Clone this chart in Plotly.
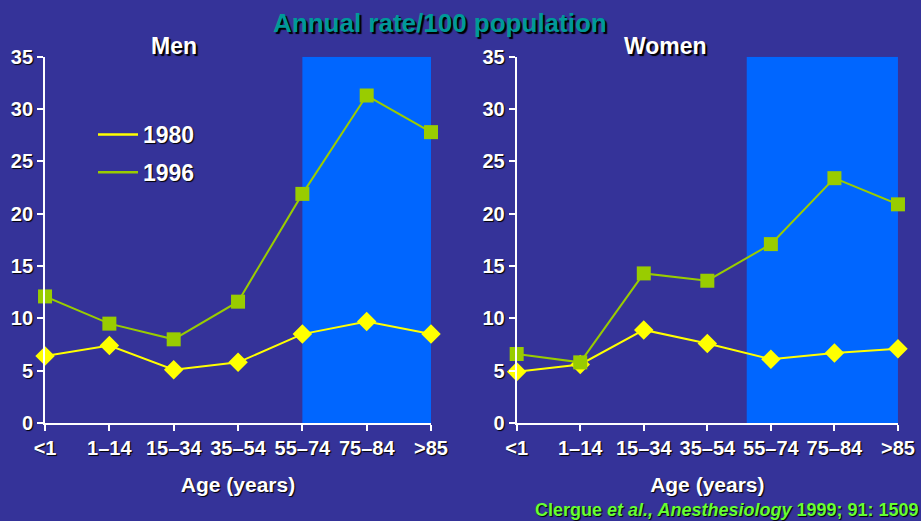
import plotly.graph_objects as go

ages = ["<1", "1–14", "15–34", "35–54", "55–74", "75–84", ">85"]
men_1980 = [6.4, 7.4, 5.1, 5.8, 8.5, 9.7, 8.5]
men_1996 = [12.1, 9.5, 8.0, 11.6, 21.9, 31.3, 27.8]
women_1980 = [4.9, 5.6, 8.9, 7.6, 6.1, 6.7, 7.1]
women_1996 = [6.6, 5.8, 14.3, 13.6, 17.1, 23.4, 20.9]
yticks = [0, 5, 10, 15, 20, 25, 30, 35]
men_shade = [4, 6]
women_shade = [3.62, 6]

BG = "#353399"
YEL = "#FFFF00"
GRN = "#99CC00"
SH = "1px 1px 1px black"
F = "Liberation Sans"

xpos = list(range(len(ages)))
fig = go.Figure()

def add_panel(v80, v96, xa, ya):
    fig.add_trace(go.Scatter(x=xpos, y=v80, mode="lines+markers", xaxis=xa, yaxis=ya,
                             line=dict(color=YEL, width=2),
                             marker=dict(symbol="diamond", size=15, color=YEL),
                             showlegend=False, cliponaxis=False))
    fig.add_trace(go.Scatter(x=xpos, y=v96, mode="lines+markers", xaxis=xa, yaxis=ya,
                             line=dict(color=GRN, width=2),
                             marker=dict(symbol="square", size=14, color=GRN),
                             showlegend=False, cliponaxis=False))

add_panel(men_1980, men_1996, "x", "y")
add_panel(women_1980, women_1996, "x2", "y2")

# legend-only line entries
fig.add_trace(go.Scatter(x=[None], y=[None], mode="lines", name="1980", legendgroup="a",
                         line=dict(color=YEL, width=2.5)))
fig.add_trace(go.Scatter(x=[None], y=[None], mode="lines", name="1996", legendgroup="b",
                         line=dict(color=GRN, width=2.5)))

# shaded regions
fig.add_shape(type="rect", xref="x", yref="y", x0=men_shade[0], x1=men_shade[1], y0=0, y1=35,
              fillcolor="#0066FF", line=dict(width=0), layer="below")
fig.add_shape(type="rect", xref="x2", yref="y2", x0=women_shade[0], x1=women_shade[1], y0=0, y1=35,
              fillcolor="#0066FF", line=dict(width=0), layer="below")

tickfont = dict(family=F, size=20, color="white", weight="bold", shadow=SH)
xax = dict(range=[0, 6], tickmode="array", tickvals=xpos, ticktext=ages, automargin=False,
           showline=True, linecolor="white", linewidth=2, ticks="outside", tickcolor="white",
           ticklen=6, tickwidth=2, showgrid=False, zeroline=False, tickfont=tickfont,
           title=dict(text="Age (years)", font=dict(family=F, size=21, color="white", weight="bold", shadow=SH),
                      standoff=19))
yax = dict(range=[0, 35], tickmode="array", tickvals=yticks, automargin=False,
           showline=True, linecolor="white", linewidth=2, ticks="outside", tickcolor="white",
           ticklen=6, tickwidth=2, showgrid=False, zeroline=False, tickfont=tickfont)

fig.update_layout(
    width=921, height=521,
    margin=dict(l=0, r=0, t=0, b=0),
    paper_bgcolor=BG, plot_bgcolor=BG,
    xaxis=dict(domain=[0.0489, 0.468], anchor="y", **xax),
    yaxis=dict(domain=[0.188, 0.891], anchor="x", **yax),
    xaxis2=dict(domain=[0.561, 0.975], anchor="y2", **xax),
    yaxis2=dict(domain=[0.188, 0.891], anchor="x2", **yax),
    showlegend=True,
    legend=dict(x=93 / 921, y=1 - 113 / 521, xanchor="left", yanchor="top", bgcolor="rgba(0,0,0,0)",
                font=dict(family=F, size=23, color="white", weight="bold", shadow=SH),
                tracegroupgap=5, itemwidth=40),
)

ann = [
    dict(text="Annual rate/100 population", x=440, y=23, size=26, color="#009999"),
    dict(text="Men", x=174, y=46, size=23, color="white"),
    dict(text="Women", x=665, y=46, size=23, color="white"),
]
for a in ann:
    fig.add_annotation(text=a["text"], xref="paper", yref="paper", x=a["x"] / 921, y=1 - a["y"] / 521,
                       xanchor="center", yanchor="middle", showarrow=False,
                       font=dict(family=F, size=a["size"], color=a["color"], weight="bold",
                                 shadow="2px 2px 1px black"))

fig.add_annotation(text="Clergue <i>et al., Anesthesiology</i> 1999; 91: 1509", xref="paper", yref="paper",
                   x=921 / 921, y=1 - 510 / 521, xanchor="right", yanchor="middle", showarrow=False,
                   font=dict(family=F, size=18, color="#66FF33", weight="bold", shadow=SH))

fig.write_html("out.html", config={"displayModeBar": False},
               post_script="document.body.style.margin='0';document.body.style.overflow='hidden';document.body.style.background='" + BG + "';")
